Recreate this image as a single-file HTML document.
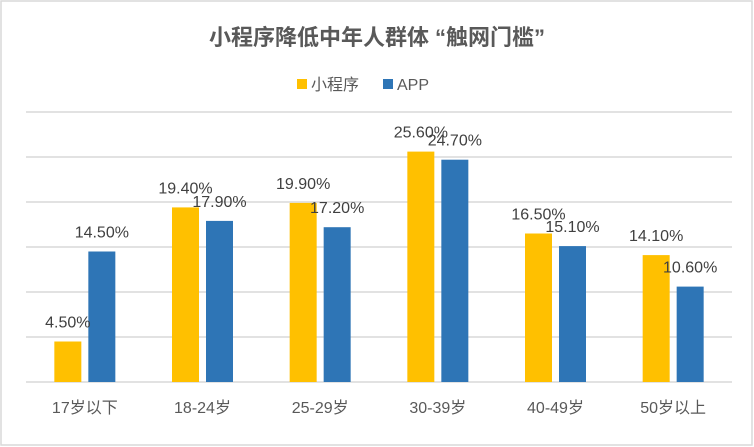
<!DOCTYPE html>
<html><head><meta charset="utf-8"><style>
body{margin:0;width:754px;height:447px;background:#fff;overflow:hidden}
svg{display:block;font-family:"Liberation Sans","Noto Sans CJK SC",sans-serif}
</style></head><body>
<svg id="chart" width="754" height="447">
<rect x="1" y="1" width="751" height="444" fill="#fff" stroke="#d9d9d9" stroke-width="1.5"/>
<text x="377" y="45" text-anchor="middle" font-size="22" font-weight="bold" fill="#595959">小程序降低中年人群体 “触网门槛”</text>
<g>
<rect x="297" y="79" width="10" height="10" fill="#ffc000"/>
<text x="311" y="90" font-size="16" fill="#595959">小程序</text>
<rect x="383" y="79" width="10" height="10" fill="#2e75b6"/>
<text x="397" y="90" font-size="16" fill="#595959">APP</text>
</g>
<g id="grid"></g><g id="bars"></g><g id="labels"></g><g id="xaxis"></g>
</svg>
<script>
const categories=["17岁以下","18-24岁","25-29岁","30-39岁","40-49岁","50岁以上"];
const miniValues=[4.5,19.4,19.9,25.6,16.5,14.1];
const appValues=[14.5,17.9,17.2,24.7,15.1,10.6];
const gridTicks=[0,5,10,15,20,25,30];
const X0=26,X1=732,Y0=382,PX=9;
const y=v=>Y0-v*PX;
const bw=(X1-X0)/categories.length;
const cx=i=>X0+bw*(i+0.5);
const ns="http://www.w3.org/2000/svg";
function mk(t,p,a){const e=document.createElementNS(ns,t);for(const k in a)e.setAttribute(k,a[k]);document.getElementById(p).appendChild(e);return e;}
gridTicks.forEach(t=>{
const l=mk("line","grid",{x1:X0,x2:X1,y1:y(t),y2:y(t),stroke:"#d9d9d9","stroke-width":1.5});


});
const series=[{v:miniValues,c:"#ffc000",n:"miniprogram",o:-17},{v:appValues,c:"#2e75b6",n:"app",o:17}];
categories.forEach((c,i)=>{
series.forEach(s=>{
const val=s.v[i],bx=cx(i)+s.o;
const r=mk("rect","bars",{x:bx-13.5,y:y(val),width:27,height:val*PX,fill:s.c});


const t=mk("text","labels",{x:bx,y:y(val)-14,"text-anchor":"middle","font-size":16,fill:"#404040"});
t.textContent=val.toFixed(2)+"%";


});
const t=mk("text","xaxis",{x:cx(i),y:413,"text-anchor":"middle","font-size":16,fill:"#595959"});
t.textContent=c;


});
</script>
</body></html>
